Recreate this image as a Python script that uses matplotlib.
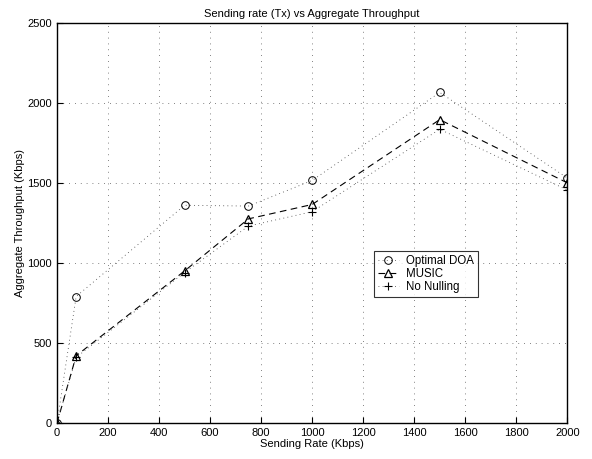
import matplotlib
matplotlib.use("Agg")
import matplotlib.pyplot as plt

plt.rcParams['font.family'] = ['Liberation Sans', 'DejaVu Sans']

x = [0, 75, 500, 750, 1000, 1500, 2000]
optimal = [0, 790, 1360, 1355, 1515, 2065, 1530]
music = [0, 420, 950, 1275, 1365, 1895, 1500]
nonull = [0, 410, 940, 1230, 1320, 1835, 1455]

fig = plt.figure(figsize=(5.92, 4.59), dpi=100)
ax = fig.add_axes([0.0963, 0.0784, 0.862, 0.872])
ax.plot(x, optimal, linestyle=(0, (1, 4)), color='0.25', linewidth=0.6, marker='o', markersize=5.5,
        markerfacecolor='none', markeredgecolor='black', markeredgewidth=0.7, label='Optimal DOA')
ax.plot(x, music, linestyle=(0, (6, 4)), color='black', linewidth=0.8, marker='^', markersize=6,
        markerfacecolor='none', markeredgewidth=0.9, label='MUSIC')
ax.plot(x, nonull, linestyle=(0, (1, 4)), color='0.25', linewidth=0.6, marker='+', markersize=6,
        markeredgecolor='black', markeredgewidth=0.8, label='No Nulling')
ax.set_xlim(0, 2000)
ax.set_ylim(0, 2500)
ax.set_xticks(range(0, 2001, 200))
ax.set_yticks(range(0, 2501, 500))
ax.grid(True, linestyle=(0, (1, 6)), color='0.35', linewidth=0.6)
for s in ax.spines.values():
    s.set_linewidth(1.0)
ax.tick_params(direction='in', labelsize=8, length=4, width=0.8)
ax.set_xlabel('Sending Rate (Kbps)', fontsize=8, labelpad=1)
ax.set_ylabel('Aggregate Throughput (Kbps)', fontsize=8, labelpad=2)
ax.set_title('Sending rate (Tx) vs Aggregate Throughput', fontsize=8, pad=4)
leg = ax.legend(loc='upper left', bbox_to_anchor=(0.61, 0.445), fontsize=8.3, frameon=True,
                fancybox=False, edgecolor='black', handlelength=1.8, borderpad=0.35,
                labelspacing=0.1, handletextpad=0.6)
leg.get_frame().set_linewidth(0.8)
fig.savefig('out.png', dpi=100)
